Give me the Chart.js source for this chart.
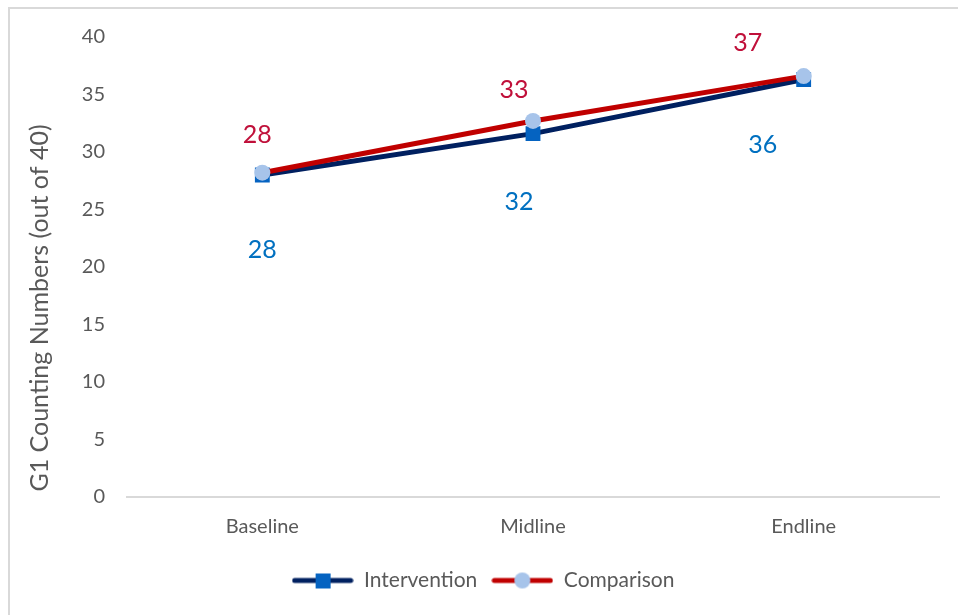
<!DOCTYPE html>
<html>
<head>
<meta charset="utf-8">
<script src="https://cdn.jsdelivr.net/npm/chart.js@4"></script>
<style>
  html, body { margin: 0; padding: 0; background: #fff; overflow: hidden; }
  #wrap { position: relative; width: 958px; height: 615px; }
  #frame { position: absolute; left: 8px; top: 7px; width: 1000px; height: 700px;
           border: 2px solid #d9d9d9; box-sizing: border-box; }
  canvas { position: absolute; left: 0; top: 0; }
</style>
</head>
<body>
<div id="wrap">
  <div id="frame"></div>
  <canvas id="lineChart" width="958" height="615"></canvas>
</div>
<script>
// datos
const categories = ['Baseline', 'Midline', 'Endline'];
const intervention = [28.0, 31.6, 36.3];
const comparison = [28.2, 32.7, 36.6];
const yTicks = [0, 5, 10, 15, 20, 25, 30, 35, 40];
const yTitle = 'G1 Counting Numbers (out of 40)';

const FONT = "Lato, 'Open Sans', sans-serif";

// desplazamientos de las etiquetas (en px) respecto al punto
const labelShift = {
    0: [[0, 75], [-14, 68], [-41, 65]],
    1: [[-5, -38], [-19, -31], [-56, -33]]
};
const labelColors = ['#0070C0', '#C0103A'];

// icono de leyenda: linea con marcador
function legendIcon(lineColor, markColor, round) {
    const c = document.createElement('canvas');
    c.width = 62; c.height = 18;
    const g = c.getContext('2d');
    g.strokeStyle = lineColor;
    g.lineWidth = 5;
    g.lineCap = 'round';
    g.beginPath(); g.moveTo(3, 9); g.lineTo(59, 9); g.stroke();
    g.fillStyle = markColor;
    if (round) {
        g.beginPath(); g.arc(31, 9, 8, 0, Math.PI * 2); g.fill();
    } else {
        g.fillRect(24, 2, 15, 15);
    }
    return c;
}

const valueLabels = {
    id: 'valueLabels',
    afterDatasetsDraw(chart) {
        const ctx = chart.ctx;
        ctx.save();
        ctx.font = '25px ' + FONT;
        ctx.textAlign = 'center';
        ctx.textBaseline = 'middle';
        chart.data.datasets.forEach((ds, i) => {
            const meta = chart.getDatasetMeta(i);
            ctx.fillStyle = labelColors[i];
            meta.data.forEach((pt, j) => {
                const s = labelShift[i][j];
                ctx.fillText(Math.round(ds.data[j]), pt.x + s[0], pt.y + s[1]);
            });
        });
        // titulo del eje Y (desplazado hacia abajo como en el original)
        ctx.translate(40, chart.chartArea.bottom - 189);
        ctx.rotate(-Math.PI / 2);
        ctx.font = '25px ' + FONT;
        ctx.fillStyle = '#595959';
        ctx.fillText(yTitle, 0, 0);
        ctx.restore();
    }
};

document.addEventListener("DOMContentLoaded", function() {
    const ctx = document.getElementById('lineChart').getContext('2d');
    new Chart(ctx, {
        type: 'line',
        data: {
            labels: categories,
            datasets: [{
                label: 'Intervention',
                data: intervention,
                order: 1,
                borderColor: '#002060',
                backgroundColor: '#0563C1',
                borderWidth: 5,
                pointStyle: 'rect',
                pointRadius: 10.5,
                pointBorderWidth: 0,
                pointBackgroundColor: '#0563C1',
                tension: 0
            }, {
                label: 'Comparison',
                data: comparison,
                order: 0,
                borderColor: '#C00000',
                backgroundColor: '#A7C4EA',
                borderWidth: 5,
                pointStyle: 'circle',
                pointRadius: 8,
                pointBorderWidth: 0,
                pointBackgroundColor: '#A7C4EA',
                tension: 0
            }]
        },
        options: {
            responsive: false,
            animation: false,
            layout: { padding: { left: 27, right: 19, top: 37, bottom: 14 } },
            plugins: {
                tooltip: { enabled: false },
                legend: {
                    position: 'bottom',
                    labels: {
                        usePointStyle: true,
                        pointStyleWidth: 62,
                        color: '#595959',
                        font: { family: FONT, size: 21 },
                        padding: 14,
                        generateLabels(chart) {
                            return [
                                { text: 'Intervention', pointStyle: legendIcon('#002060', '#0563C1', false),
                                  datasetIndex: 0, fontColor: '#595959', lineWidth: 0, strokeStyle: 'transparent' },
                                { text: 'Comparison', pointStyle: legendIcon('#C00000', '#A7C4EA', true),
                                  datasetIndex: 1, fontColor: '#595959', lineWidth: 0, strokeStyle: 'transparent' }
                            ];
                        }
                    }
                }
            },
            scales: {
                x: {
                    offset: true,
                    grid: { display: false, drawTicks: false },
                    border: { display: true, color: '#d9d9d9', width: 2 },
                    ticks: { color: '#595959', font: { family: FONT, size: 20 }, padding: 18 },
                    afterFit(scale) { scale.height = 59; }
                },
                y: {
                    min: 0,
                    max: 40,
                    afterBuildTicks(scale) { scale.ticks = yTicks.map(v => ({ value: v })); },
                    grid: { display: false, drawTicks: false },
                    border: { display: false },
                    ticks: { color: '#595959', font: { family: FONT, size: 20 }, padding: 22 },
                    afterFit(scale) { scale.width = 100; }
                }
            }
        },
        plugins: [valueLabels]
    });
});
</script>
</body>
</html>
